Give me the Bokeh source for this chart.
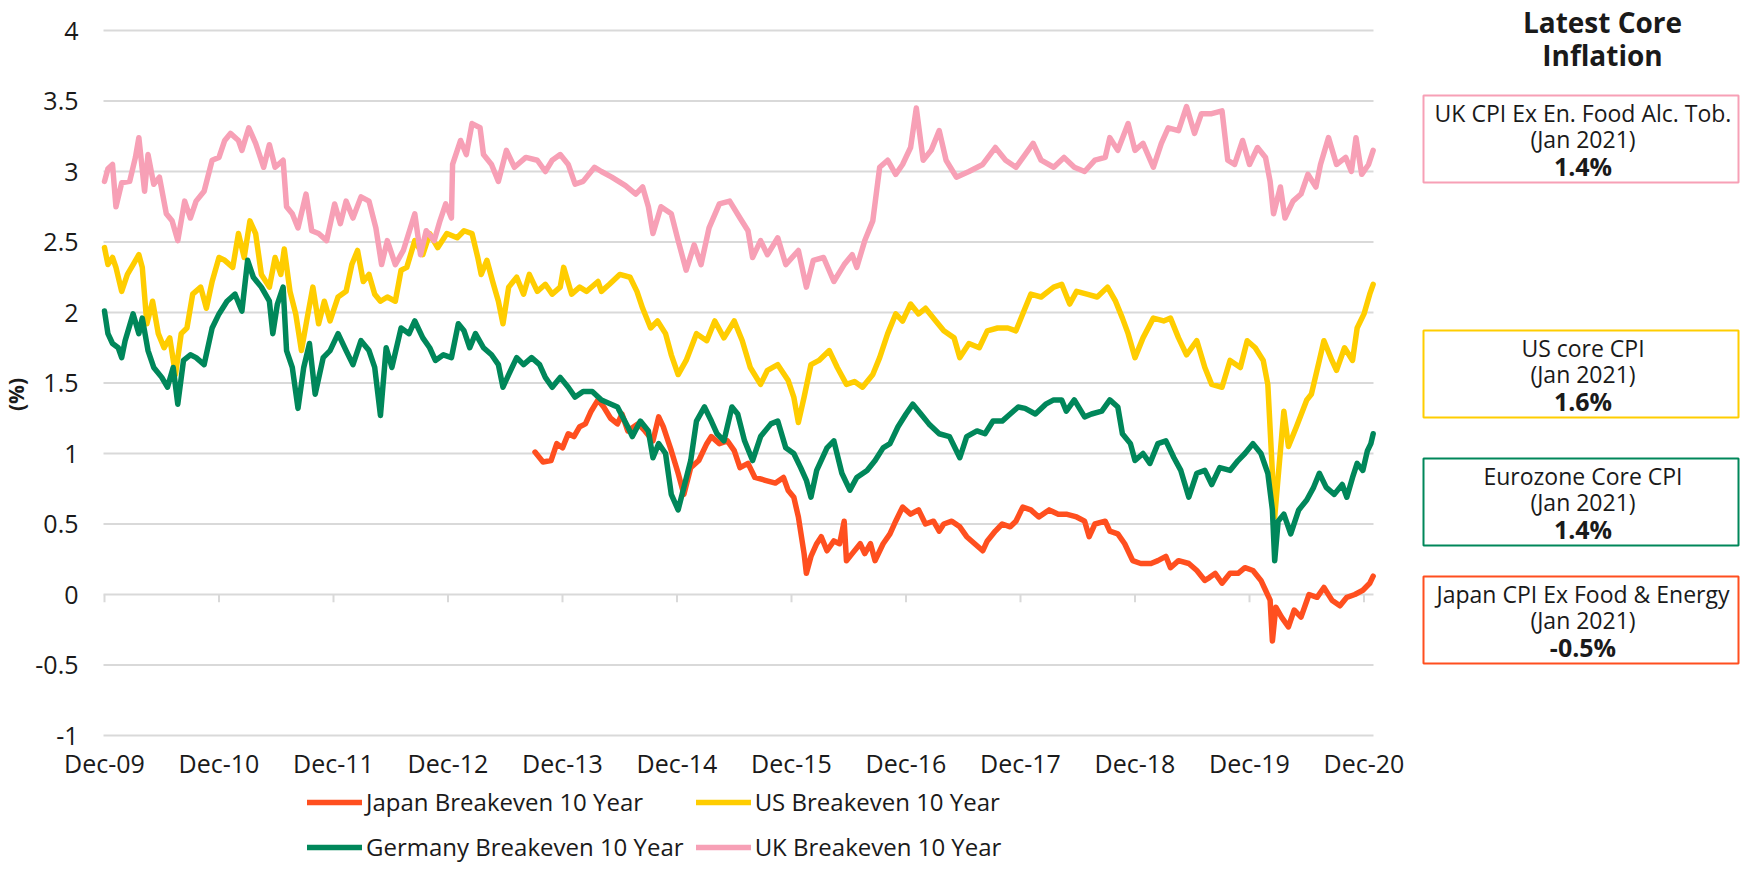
from bokeh.plotting import figure
from bokeh.models import Range1d, FixedTicker, NumeralTickFormatter, Legend, LegendItem
from bokeh.embed import file_html
from bokeh.resources import INLINE
from bokeh.core.properties import value

# ---------------- data (x = years after the "Dec-09" tick, y = %) ----------------
x_ticks = list(range(12))
x_tick_labels = ["Dec-09", "Dec-10", "Dec-11", "Dec-12", "Dec-13", "Dec-14",
                 "Dec-15", "Dec-16", "Dec-17", "Dec-18", "Dec-19", "Dec-20"]
y_ticks = [-1, -0.5, 0, 0.5, 1, 1.5, 2, 2.5, 3, 3.5, 4]
x_last = 11.083  # end of the plotted period (a little after the Dec-20 tick)

series_names = ["Japan Breakeven 10 Year", "US Breakeven 10 Year",
                "Germany Breakeven 10 Year", "UK Breakeven 10 Year"]

japan = [(3.76,1.01),(3.83,0.94),(3.90,0.95),(3.95,1.07),(4.00,1.04),(4.05,1.14),(4.10,1.12),(4.15,1.19),
         (4.20,1.21),(4.25,1.30),(4.31,1.38),(4.36,1.33),(4.42,1.25),(4.48,1.21),(4.52,1.28),(4.57,1.16),
         (4.66,1.21),(4.72,1.16),(4.79,1.09),(4.84,1.26),(4.88,1.19),(4.95,1.02),(5.01,0.86),(5.06,0.71),
         (5.12,0.90),(5.19,0.95),(5.26,1.07),(5.30,1.12),(5.37,1.07),(5.44,1.09),(5.50,1.02),(5.55,0.90),
         (5.62,0.93),(5.68,0.83),(5.77,0.81),(5.86,0.79),(5.93,0.83),(5.97,0.74),(6.02,0.69),(6.06,0.55),
         (6.11,0.29),(6.13,0.15),(6.17,0.27),(6.22,0.36),(6.26,0.41),(6.31,0.31),(6.37,0.38),(6.42,0.36),
         (6.46,0.52),(6.48,0.24),(6.53,0.29),(6.60,0.36),(6.64,0.29),(6.69,0.36),(6.73,0.24),(6.80,0.36),
         (6.86,0.43),(6.91,0.52),(6.97,0.62),(7.04,0.57),(7.11,0.60),(7.17,0.50),(7.24,0.52),(7.29,0.45),
         (7.33,0.50),(7.40,0.52),(7.47,0.48),(7.53,0.41),(7.60,0.36),(7.67,0.31),(7.71,0.38),(7.78,0.45),
         (7.84,0.50),(7.91,0.48),(7.96,0.52),(8.02,0.62),(8.09,0.60),(8.16,0.55),(8.25,0.60),(8.33,0.57),
         (8.40,0.57),(8.49,0.55),(8.56,0.52),(8.60,0.41),(8.65,0.50),(8.74,0.52),(8.78,0.45),(8.85,0.43),
         (8.91,0.36),(8.98,0.24),(9.05,0.22),(9.14,0.22),(9.20,0.24),(9.27,0.27),(9.31,0.19),(9.38,0.24),
         (9.47,0.22),(9.54,0.17),(9.61,0.10),(9.65,0.12),(9.70,0.15),(9.76,0.08),(9.83,0.15),(9.90,0.15),
         (9.96,0.19),(10.03,0.17),(10.10,0.10),(10.14,0.03),(10.18,-0.04),(10.20,-0.33),(10.23,-0.09),
         (10.28,-0.16),(10.34,-0.23),(10.39,-0.11),(10.45,-0.16),(10.52,0.00),(10.59,-0.02),(10.65,0.05),
         (10.72,-0.04),(10.79,-0.08),(10.85,-0.02),(10.92,0.00),(10.99,0.03),(11.05,0.08),(11.08,0.13)]

us = [(0.00,2.46),(0.03,2.34),(0.07,2.39),(0.10,2.32),(0.15,2.15),(0.20,2.27),(0.25,2.34),(0.30,2.41),
      (0.33,2.32),(0.37,1.92),(0.42,2.08),(0.47,1.85),(0.52,1.75),(0.57,1.82),(0.62,1.56),(0.67,1.85),
      (0.72,1.89),(0.77,2.13),(0.84,2.18),(0.89,2.03),(0.94,2.22),(1.00,2.39),(1.05,2.37),(1.12,2.32),
      (1.17,2.56),(1.22,2.39),(1.27,2.65),(1.32,2.56),(1.37,2.27),(1.44,2.18),(1.49,2.39),(1.54,2.27),
      (1.57,2.45),(1.62,2.15),(1.67,1.99),(1.72,1.73),(1.77,1.96),(1.82,2.18),(1.87,1.92),(1.92,2.08),
      (1.97,1.94),(2.04,2.11),(2.11,2.15),(2.16,2.34),(2.21,2.44),(2.26,2.22),(2.31,2.27),(2.36,2.13),
      (2.41,2.08),(2.47,2.11),(2.54,2.08),(2.59,2.30),(2.64,2.32),(2.71,2.51),(2.78,2.41),(2.84,2.56),
      (2.91,2.46),(2.99,2.56),(3.08,2.53),(3.14,2.58),(3.21,2.56),(3.26,2.39),(3.29,2.27),(3.34,2.37),
      (3.39,2.22),(3.44,2.08),(3.48,1.92),(3.53,2.18),(3.60,2.25),(3.66,2.13),(3.71,2.27),(3.78,2.15),
      (3.85,2.20),(3.91,2.13),(3.98,2.18),(4.01,2.32),(4.08,2.13),(4.15,2.18),(4.21,2.15),(4.31,2.22),
      (4.34,2.15),(4.41,2.20),(4.50,2.27),(4.59,2.25),(4.65,2.15),(4.70,2.03),(4.77,1.89),(4.83,1.94),
      (4.90,1.85),(4.95,1.70),(5.01,1.56),(5.08,1.66),(5.17,1.85),(5.26,1.80),(5.33,1.94),(5.41,1.82),
      (5.50,1.94),(5.57,1.80),(5.64,1.61),(5.73,1.49),(5.79,1.59),(5.88,1.63),(5.97,1.52),(6.02,1.40),
      (6.06,1.22),(6.11,1.40),(6.17,1.63),(6.24,1.66),(6.33,1.73),(6.40,1.61),(6.48,1.49),(6.55,1.51),
      (6.62,1.47),(6.71,1.56),(6.77,1.68),(6.84,1.85),(6.91,1.99),(6.97,1.94),(7.04,2.06),(7.11,1.99),
      (7.17,2.03),(7.26,1.94),(7.33,1.87),(7.42,1.82),(7.47,1.68),(7.55,1.78),(7.64,1.75),(7.71,1.87),
      (7.80,1.89),(7.89,1.89),(7.96,1.87),(8.03,2.01),(8.09,2.13),(8.18,2.11),(8.29,2.18),(8.36,2.20),
      (8.43,2.06),(8.49,2.15),(8.58,2.13),(8.67,2.11),(8.76,2.18),(8.83,2.08),(8.89,1.96),(8.94,1.85),
      (9.00,1.68),(9.07,1.82),(9.16,1.96),(9.25,1.94),(9.31,1.96),(9.38,1.82),(9.45,1.70),(9.54,1.80),
      (9.61,1.61),(9.67,1.49),(9.76,1.47),(9.83,1.66),(9.92,1.61),(9.98,1.80),(10.05,1.75),(10.12,1.66),
      (10.16,1.49),(10.22,0.55),(10.27,1.02),(10.30,1.30),(10.34,1.05),(10.41,1.19),(10.50,1.38),
      (10.54,1.42),(10.61,1.66),(10.65,1.80),(10.72,1.66),(10.76,1.59),(10.83,1.75),(10.90,1.66),
      (10.94,1.89),(11.00,1.99),(11.05,2.13),(11.08,2.20)]

germany = [(0.00,2.01),(0.03,1.85),(0.07,1.78),(0.12,1.75),(0.15,1.68),(0.18,1.80),(0.25,1.99),(0.30,1.85),
           (0.33,1.96),(0.38,1.73),(0.43,1.61),(0.50,1.54),(0.55,1.47),(0.60,1.61),(0.64,1.35),(0.69,1.66),
           (0.75,1.70),(0.80,1.68),(0.87,1.63),(0.94,1.89),(1.00,1.99),(1.07,2.08),(1.14,2.13),(1.20,2.01),
           (1.25,2.37),(1.30,2.25),(1.37,2.18),(1.44,2.08),(1.47,1.85),(1.51,2.06),(1.56,2.18),(1.59,1.73),
           (1.64,1.61),(1.69,1.32),(1.74,1.61),(1.79,1.78),(1.84,1.42),(1.91,1.68),(1.97,1.73),(2.04,1.85),
           (2.11,1.73),(2.17,1.63),(2.24,1.80),(2.31,1.73),(2.36,1.61),(2.41,1.27),(2.46,1.75),(2.51,1.61),
           (2.59,1.89),(2.66,1.85),(2.71,1.94),(2.78,1.82),(2.84,1.75),(2.89,1.66),(2.96,1.70),(3.03,1.68),
           (3.09,1.92),(3.14,1.87),(3.19,1.75),(3.24,1.85),(3.31,1.75),(3.38,1.70),(3.44,1.63),(3.48,1.47),
           (3.53,1.56),(3.60,1.68),(3.66,1.63),(3.73,1.68),(3.80,1.63),(3.85,1.54),(3.91,1.47),(3.98,1.54),
           (4.05,1.47),(4.11,1.40),(4.18,1.44),(4.26,1.44),(4.34,1.38),(4.48,1.33),(4.57,1.19),(4.61,1.12),
           (4.68,1.23),(4.75,1.16),(4.79,0.97),(4.84,1.07),(4.90,1.00),(4.95,0.71),(5.01,0.60),(5.06,0.76),
           (5.12,0.95),(5.17,1.23),(5.24,1.33),(5.30,1.23),(5.35,1.14),(5.41,1.09),(5.48,1.33),(5.53,1.28),
           (5.59,1.09),(5.66,0.95),(5.73,1.12),(5.82,1.21),(5.88,1.23),(5.95,1.04),(6.02,1.00),(6.08,0.90),
           (6.13,0.81),(6.17,0.69),(6.22,0.88),(6.31,1.04),(6.37,1.09),(6.44,0.86),(6.51,0.74),(6.57,0.83),
           (6.66,0.88),(6.73,0.95),(6.80,1.04),(6.86,1.07),(6.93,1.19),(7.00,1.28),(7.06,1.35),(7.13,1.28),
           (7.20,1.21),(7.29,1.14),(7.38,1.12),(7.47,0.97),(7.53,1.12),(7.62,1.16),(7.69,1.14),(7.76,1.23),
           (7.84,1.23),(7.91,1.28),(7.98,1.33),(8.04,1.32),(8.13,1.28),(8.22,1.35),(8.29,1.38),(8.36,1.38),
           (8.40,1.30),(8.47,1.38),(8.56,1.26),(8.62,1.28),(8.71,1.30),(8.78,1.38),(8.85,1.33),(8.89,1.14),
           (8.96,1.07),(9.00,0.95),(9.07,1.00),(9.13,0.93),(9.20,1.07),(9.27,1.09),(9.34,0.97),(9.40,0.88),
           (9.47,0.69),(9.54,0.86),(9.61,0.88),(9.67,0.78),(9.74,0.90),(9.83,0.88),(9.90,0.95),(9.96,1.00),
           (10.03,1.07),(10.10,1.00),(10.16,0.86),(10.20,0.60),(10.22,0.24),(10.25,0.52),(10.30,0.57),
           (10.36,0.43),(10.43,0.60),(10.50,0.67),(10.56,0.76),(10.61,0.86),(10.67,0.76),(10.74,0.71),
           (10.81,0.78),(10.85,0.69),(10.90,0.83),(10.94,0.93),(10.99,0.88),(11.03,1.02),(11.06,1.07),(11.08,1.14)]

uk = [(0.00,2.93),(0.03,3.02),(0.07,3.05),(0.10,2.75),(0.15,2.92),(0.22,2.93),(0.27,3.10),(0.30,3.24),
      (0.35,2.86),(0.38,3.12),(0.43,2.91),(0.48,2.96),(0.54,2.70),(0.59,2.65),(0.64,2.51),(0.70,2.79),
      (0.75,2.67),(0.80,2.79),(0.87,2.86),(0.94,3.08),(1.00,3.10),(1.05,3.22),(1.10,3.27),(1.17,3.22),
      (1.20,3.15),(1.26,3.31),(1.32,3.20),(1.39,3.03),(1.44,3.19),(1.49,3.03),(1.56,3.08),(1.59,2.75),
      (1.64,2.70),(1.69,2.60),(1.76,2.84),(1.81,2.58),(1.87,2.56),(1.94,2.51),(2.01,2.77),(2.06,2.63),
      (2.11,2.79),(2.17,2.67),(2.24,2.82),(2.31,2.79),(2.37,2.60),(2.42,2.34),(2.47,2.51),(2.54,2.34),
      (2.61,2.44),(2.71,2.70),(2.76,2.41),(2.81,2.58),(2.88,2.51),(2.93,2.65),(2.98,2.77),(3.03,2.67),
      (3.04,3.05),(3.11,3.22),(3.16,3.12),(3.21,3.34),(3.28,3.31),(3.31,3.12),(3.38,3.05),(3.44,2.93),
      (3.51,3.15),(3.58,3.03),(3.68,3.10),(3.78,3.08),(3.85,3.00),(3.91,3.08),(3.98,3.12),(4.05,3.05),
      (4.11,2.91),(4.18,2.93),(4.28,3.03),(4.34,3.00),(4.43,2.96),(4.55,2.90),(4.64,2.84),(4.70,2.89),
      (4.75,2.75),(4.79,2.56),(4.86,2.75),(4.95,2.70),(5.01,2.51),(5.08,2.30),(5.15,2.48),(5.21,2.34),
      (5.28,2.60),(5.37,2.77),(5.46,2.79),(5.55,2.67),(5.62,2.58),(5.66,2.39),(5.73,2.51),(5.79,2.41),
      (5.88,2.53),(5.95,2.34),(6.06,2.44),(6.13,2.18),(6.19,2.37),(6.28,2.39),(6.37,2.22),(6.46,2.34),
      (6.53,2.41),(6.57,2.32),(6.64,2.51),(6.71,2.65),(6.77,3.03),(6.84,3.08),(6.91,2.98),(6.97,3.05),
      (7.04,3.17),(7.09,3.45),(7.15,3.08),(7.22,3.15),(7.29,3.29),(7.35,3.08),(7.44,2.96),(7.55,3.00),
      (7.67,3.05),(7.78,3.17),(7.87,3.08),(7.96,3.03),(8.04,3.12),(8.11,3.20),(8.18,3.08),(8.29,3.03),
      (8.38,3.10),(8.47,3.03),(8.56,3.00),(8.65,3.08),(8.74,3.10),(8.78,3.24),(8.85,3.15),(8.94,3.34),
      (9.00,3.15),(9.07,3.20),(9.16,3.03),(9.23,3.20),(9.29,3.31),(9.38,3.29),(9.45,3.46),(9.52,3.27),
      (9.58,3.41),(9.67,3.41),(9.76,3.43),(9.81,3.08),(9.87,3.05),(9.94,3.22),(10.00,3.05),(10.07,3.17),
      (10.14,3.10),(10.18,2.93),(10.21,2.70),(10.27,2.89),(10.31,2.67),(10.38,2.79),(10.45,2.84),
      (10.51,2.98),(10.58,2.89),(10.62,3.05),(10.69,3.24),(10.76,3.05),(10.84,3.10),(10.89,3.00),
      (10.93,3.24),(10.98,2.98),(11.04,3.05),(11.08,3.15)]

core_labels = ["UK CPI Ex En. Food Alc. Tob.", "US core CPI", "Eurozone Core CPI", "Japan CPI Ex Food & Energy"]
core_dates = ["(Jan 2021)", "(Jan 2021)", "(Jan 2021)", "(Jan 2021)"]
core_values = [1.4, 1.6, 1.4, -0.5]
panel_title = ["Latest Core", "Inflation"]

# ---------------- styling / layout ----------------
FONT = "Open Sans"
TXT = "#1a1a1a"
GRID = "#d9d9d9"
C_JP, C_US, C_DE, C_UK = "#FF4F1F", "#FFCD00", "#00875A", "#F7A0B6"

W, H = 1740, 862            # canvas size (canvas pixels below)
PX_PER_YEAR = 114.5         # one year on the x axis
PX_PER_PCT = 141.0          # one percentage point on the y axis
PLOT_LEFT_PX = 103          # canvas x where the chart area starts
TICK0_PX = 104              # canvas x of the "Dec-09" tick
TOP4_PX = 30                # canvas y of the 4% gridline

# the frame covers the whole canvas; axes are pinned inside it
x_start = -TICK0_PX / PX_PER_YEAR
x_end = x_start + W / PX_PER_YEAR
y_end = 4 + TOP4_PX / PX_PER_PCT
y_start = y_end - H / PX_PER_PCT
x_plot_left = -(TICK0_PX - PLOT_LEFT_PX) / PX_PER_YEAR

p = figure(width=W, height=H, output_backend="svg", toolbar_location=None, title=None,
           x_range=Range1d(x_start, x_end), y_range=Range1d(y_start, y_end), min_border=0)
p.extra_x_ranges = {"px": Range1d(0, W)}
p.extra_y_ranges = {"px": Range1d(H, 0)}
p.outline_line_color = None
p.background_fill_color = "white"
p.grid.visible = False

p.xaxis.fixed_location = -1
p.xaxis.ticker = FixedTicker(ticks=x_ticks)
p.xaxis.major_label_overrides = dict(zip(x_ticks, x_tick_labels))
p.xaxis.axis_line_color = None
p.xaxis.major_tick_line_color = None
p.xaxis.minor_tick_line_color = None
p.xaxis.major_tick_out = 0
p.xaxis.major_label_standoff = 10
p.xaxis.major_label_text_font = FONT
p.xaxis.major_label_text_font_size = "25px"
p.xaxis.major_label_text_color = TXT

p.yaxis.fixed_location = x_plot_left
p.yaxis.ticker = FixedTicker(ticks=y_ticks)
p.yaxis.formatter = NumeralTickFormatter(format="0.[0]")
p.yaxis.bounds = (-1.16, 4)
p.yaxis.axis_line_color = None
p.yaxis.major_tick_line_color = None
p.yaxis.minor_tick_line_color = None
p.yaxis.major_tick_out = 0
p.yaxis.major_label_standoff = 25
p.yaxis.major_label_text_font = FONT
p.yaxis.major_label_text_font_size = "25px"
p.yaxis.major_label_text_color = TXT
p.yaxis.axis_label = "(%)"
p.yaxis.axis_label_text_font = FONT
p.yaxis.axis_label_text_font_style = "bold"
p.yaxis.axis_label_text_font_size = "21px"
p.yaxis.axis_label_text_color = TXT
p.yaxis.axis_label_standoff = 2

# horizontal gridlines across the plotted period only
p.segment(x0=[x_plot_left] * len(y_ticks), y0=y_ticks, x1=[x_last] * len(y_ticks), y1=y_ticks,
          line_color=GRID, line_width=2)
# tick marks hanging from the zero line
p.segment(x0=x_ticks, y0=[0] * len(x_ticks), x1=x_ticks, y1=[-0.055] * len(x_ticks),
          line_color=GRID, line_width=2)

renderers = []
for data, color in [(japan, C_JP), (us, C_US), (germany, C_DE), (uk, C_UK)]:
    xs = [d[0] for d in data]
    ys = [d[1] for d in data]
    r = p.line(xs, ys, line_color=color, line_width=5.5, line_join="round", line_cap="round")
    renderers.append(r)

legend = Legend(items=[LegendItem(label=n, renderers=[r]) for n, r in zip(series_names, renderers)],
                orientation="horizontal", ncols=2, location=(307, -1),
                glyph_width=55, glyph_height=30, label_height=30, label_standoff=4,
                label_width=300, spacing=12, padding=0, margin=0,
                border_line_color=None, background_fill_alpha=0,
                label_text_font=FONT, label_text_font_size="24px", label_text_color=TXT)
p.add_layout(legend)

# ---------------- right panel: latest core inflation (canvas-pixel coordinates) ----------------
BOX_LEFT, BOX_RIGHT, BOX_H = 1423, 1738, 87
box_tops = [95, 330, 458, 576]
box_colors = [C_UK, C_US, C_DE, C_JP]
cx = (BOX_LEFT + BOX_RIGHT) / 2 + 2
kw = dict(x_range_name="px", y_range_name="px")

p.text(x=[1602, 1602], y=[21, 54], text=panel_title, text_align="center", text_baseline="middle",
       text_font=value(FONT), text_font_style="bold", text_font_size="28px", text_color=TXT, **kw)
p.quad(left=[BOX_LEFT] * 4, right=[BOX_RIGHT] * 4, top=box_tops, bottom=[t + BOX_H for t in box_tops],
       fill_color=None, line_color=box_colors, line_width=2, **kw)
p.text(x=[cx] * 4, y=[t + 17.5 for t in box_tops], text=core_labels, text_align="center",
       text_baseline="middle", text_font=value(FONT), text_font_size="23px", text_color=TXT, **kw)
p.text(x=[cx] * 4, y=[t + 43 for t in box_tops], text=core_dates, text_align="center",
       text_baseline="middle", text_font=value(FONT), text_font_size="23px", text_color=TXT, **kw)
p.text(x=[cx] * 4, y=[t + 70 for t in box_tops], text=[f"{v:.1f}%" for v in core_values],
       text_align="center", text_baseline="middle", text_font=value(FONT), text_font_style="bold",
       text_font_size="25px", text_color=TXT, **kw)

open("out.html", "w").write(file_html(p, INLINE))
